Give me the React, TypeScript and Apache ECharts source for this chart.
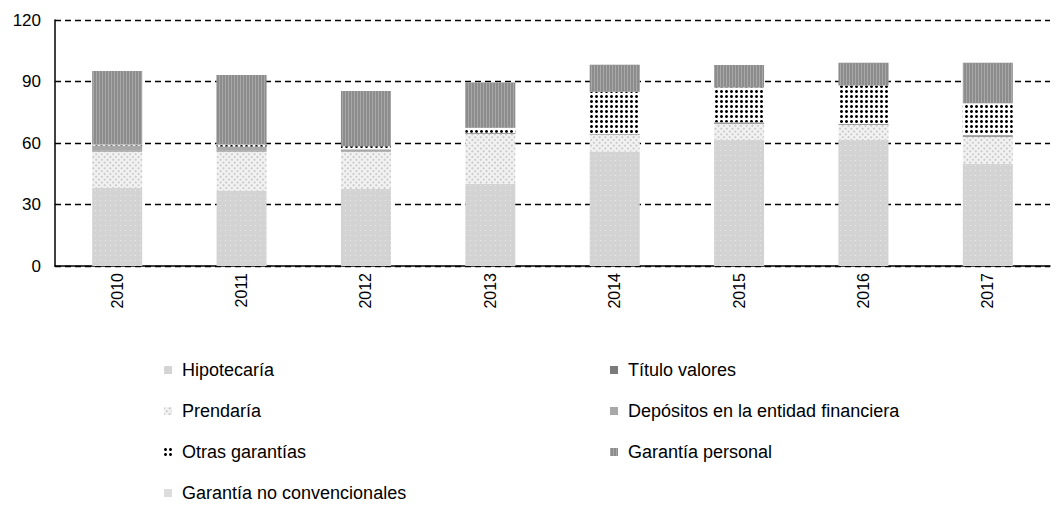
import React, { useEffect, useRef } from "react";
import * as echarts from "echarts";

const years = ["2010", "2011", "2012", "2013", "2014", "2015", "2016", "2017"];
const hipotecaria = [38, 36.7, 37.6, 40, 55.8, 61.5, 61.5, 49.8];
const prendaria = [17.8, 19.1, 18.2, 24.4, 8.1, 7.8, 7.3, 13.3];
const tituloValores = [0.5, 0.5, 0.3, 0.3, 0.3, 0.3, 0.3, 0.3];
const depositos = [2.5, 2, 0.8, 0.3, 0.3, 0.5, 0.3, 0.5];
const otras = [0.5, 1, 1.5, 2.5, 20.5, 17, 18.7, 15.5];
const personal = [35.8, 33.9, 27, 22, 13.2, 10.9, 11, 19.8];
const noConvencionales = [0, 0, 0, 0, 0, 0, 0, 0];
const yTicks = [0, 30, 60, 90, 120];
const legendLeft = ["Hipotecaría", "Prendaría", "Otras garantías", "Garantía no convencionales"];
const legendRight = ["Título valores", "Depósitos en la entidad financiera", "Garantía personal"];

const FONT = "'Liberation Sans', Arial, sans-serif";

export default function App() {
  const ref = useRef<HTMLDivElement>(null);
  useEffect(() => {
    if (!ref.current) return;
    const chart = echarts.init(ref.current, null, { renderer: "svg" });
    const mk = (name: string, data: number[], color: string, decal?: any) => ({
      name,
      type: "bar",
      stack: "total",
      barWidth: 50,
      data,
      itemStyle: decal ? { color, decal } : { color },
    });
    const legendText = {
      fontFamily: FONT,
      fontSize: 18,
      color: "#000",
      lineHeight: 20,
      padding: [0, 0, 0, 5],
    };
    chart.setOption({
      animation: false,
      backgroundColor: "#fff",
      grid: { left: 55, right: 8, top: 20, bottom: 240, containLabel: false },
      xAxis: {
        type: "category",
        data: years,
        axisLine: { lineStyle: { color: "#000", width: 1.5 } },
        axisTick: { show: false },
        axisLabel: { rotate: 90, color: "#000", fontFamily: FONT, fontSize: 16, margin: 7 },
      },
      yAxis: {
        type: "value",
        min: yTicks[0],
        max: yTicks[yTicks.length - 1],
        interval: 30,
        axisLine: { show: true, lineStyle: { color: "#000", width: 1.5 } },
        axisTick: { show: false },
        axisLabel: { color: "#000", fontFamily: FONT, fontSize: 17, margin: 14 },
        splitLine: { lineStyle: { color: "#000", type: [6, 4], width: 1.3 } },
      },
      legend: [
        {
          orient: "vertical",
          left: 164,
          top: 360,
          padding: 0,
          icon: "rect",
          itemWidth: 8,
          itemHeight: 8,
          itemGap: 21,
          textStyle: legendText,
          data: legendLeft,
        },
        {
          orient: "vertical",
          left: 610,
          top: 360,
          padding: 0,
          icon: "rect",
          itemWidth: 8,
          itemHeight: 8,
          itemGap: 21,
          textStyle: legendText,
          data: legendRight,
        },
      ],
      series: [
        mk("Hipotecaría", hipotecaria, "#d3d3d3", {
          symbol: "rect",
          symbolSize: 1,
          color: "rgba(255,255,255,0.5)",
          dashArrayX: [1, 4],
          dashArrayY: [1, 4],
        }),
        mk("Prendaría", prendaria, "#f2f2f2", {
          symbol: "rect",
          symbolSize: 1,
          color: "#cdcdcd",
          dashArrayX: [2, 2],
          dashArrayY: [2, 2],
          rotation: Math.PI / 4,
        }),
        mk("Título valores", tituloValores, "#7a7a7a"),
        mk("Depósitos en la entidad financiera", depositos, "#a8a8a8"),
        mk("Otras garantías", otras, "#ffffff", {
          symbol: "circle",
          symbolSize: 1,
          color: "#000",
          dashArrayX: [3, 1.4],
          dashArrayY: [3, 1.4],
        }),
        mk("Garantía personal", personal, "#8c8c8c", {
          symbol: "rect",
          symbolSize: 1,
          color: "rgba(175,175,175,0.8)",
          dashArrayX: [1, 2],
          dashArrayY: [1, 0],
        }),
        mk("Garantía no convencionales", noConvencionales, "#dcdcdc"),
      ],
    });
    return () => chart.dispose();
  }, []);
  return (
    <div
      ref={ref}
      style={{ position: "fixed", left: 0, top: 0, width: 1058, height: 506, background: "#fff" }}
    />
  );
}
